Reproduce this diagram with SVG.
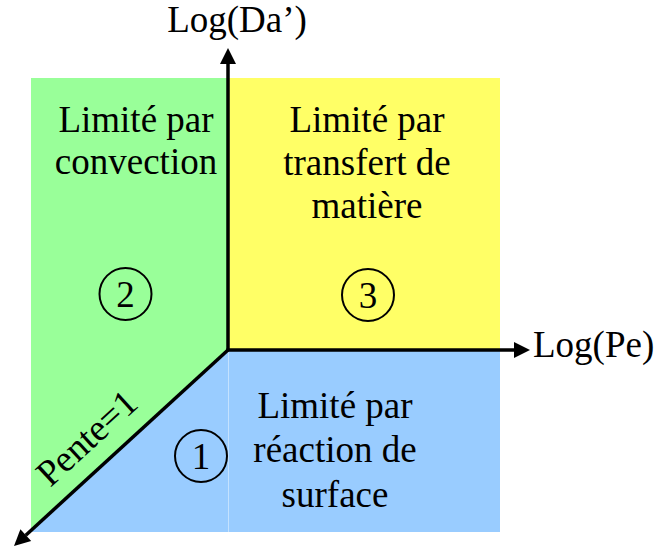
<svg xmlns="http://www.w3.org/2000/svg" width="657" height="548" viewBox="0 0 657 548">
  <style>
    text { font-family: "Liberation Serif", "Times New Roman", serif; font-size: 37px; fill: #000; }
    .label { text-anchor: middle; }
    .axis { stroke: #000; stroke-width: 3.5; fill: none; }
    .badge circle { fill: none; stroke: #000; stroke-width: 2; }
  </style>
  <defs>
    <marker id="arrow" markerUnits="userSpaceOnUse" markerWidth="16" markerHeight="16" refX="0" refY="0" orient="auto" overflow="visible">
      <path d="M0,-8 L16,0 L0,8 Z" fill="#000"/>
    </marker>
  </defs>

  <!-- Regime 2: convection-limited zone -->
  <g id="zone-convection">
    <polygon points="31,78 228,78 228,350 30,532 31,532" fill="#99ff99"/>
    <text class="label" x="136" y="132">Limité par</text>
    <text class="label" x="136" y="174">convection</text>
    <g class="badge">
      <circle cx="125.5" cy="294" r="26"/>
      <text class="label" x="125.5" y="306.5">2</text>
    </g>
  </g>

  <!-- Regime 3: mass-transfer-limited zone -->
  <g id="zone-transfert">
    <rect x="228" y="78" width="272" height="272" fill="#ffff66"/>
    <text class="label" x="367" y="132">Limité par</text>
    <text class="label" x="367" y="175">transfert de</text>
    <text class="label" x="367" y="218">matière</text>
    <g class="badge">
      <circle cx="368" cy="295" r="26"/>
      <text class="label" x="368" y="307.5">3</text>
    </g>
  </g>

  <!-- Regime 1: surface-reaction-limited zone -->
  <g id="zone-reaction">
    <polygon points="228,350 500,350 500,532 30,532" fill="#99ccff"/>
    <line x1="228.5" y1="352" x2="228.5" y2="532" stroke="#c4e2ff" stroke-width="1"/>
    <text class="label" x="335" y="418">Limité par</text>
    <text class="label" x="335" y="462">réaction de</text>
    <text class="label" x="335" y="507">surface</text>
    <g class="badge">
      <circle cx="201" cy="456" r="26"/>
      <text class="label" x="201" y="468.5">1</text>
    </g>
  </g>

  <!-- Axes and the slope-1 boundary -->
  <g id="connectors">
    <line class="axis" x1="228" y1="350" x2="228" y2="64" marker-end="url(#arrow)"/>
    <line class="axis" x1="226.5" y1="350" x2="514" y2="350" marker-end="url(#arrow)"/>
    <line class="axis" x1="228" y1="350" x2="25.8" y2="535.2" marker-end="url(#arrow)"/>
  </g>

  <g id="axis-labels">
    <text class="label" x="237" y="32">Log(Da’)</text>
    <text x="533" y="357">Log(Pe)</text>
    <text class="label" transform="translate(95,447) rotate(-42.5)" font-size="38">Pente=1</text>
  </g>
</svg>
